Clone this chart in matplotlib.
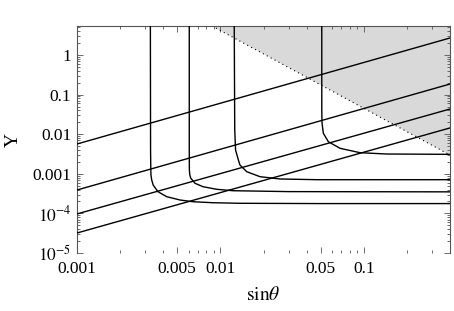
import matplotlib
matplotlib.use("Agg")
import matplotlib.pyplot as plt
from matplotlib.ticker import FixedLocator, NullFormatter

plt.rcParams['font.family'] = ['Liberation Serif', 'DejaVu Serif']
plt.rcParams['mathtext.fontset'] = 'stix'

# axis limits
x_lim = [0.001, 0.4]
y_lim = [1e-5, 5.4]

# straight lines (endpoints at x_lim)
line_x = [0.001, 0.4]
line1_y = [0.00566, 2.69]
line2_y = [3.9e-4, 0.185]
line3_y = [9.7e-5, 0.0433]
line4_y = [3.2e-5, 0.0144]

# L-shaped curves
curveA_x = [0.00325, 0.00326, 0.00327, 0.00328, 0.00332, 0.0034, 0.00367, 0.00423, 0.00523, 0.00645, 0.0089, 0.0137, 0.05, 0.4]
curveA_y = [5.4, 0.004, 0.0015, 9.3e-4, 7.0e-4, 5.2e-4, 3.53e-4, 2.64e-4, 2.18e-4, 1.97e-4, 1.86e-4, 1.8e-4, 1.77e-4, 1.77e-4]

curveB_x = [0.00607, 0.00607, 0.00608, 0.00612, 0.00621, 0.00666, 0.00757, 0.00944, 0.01227, 0.03, 0.4]
curveB_y = [5.4, 0.004, 1.25e-3, 9.5e-4, 7.8e-4, 5.75e-4, 4.72e-4, 4.06e-4, 3.74e-4, 3.55e-4, 3.5e-4]

curveC_x = [0.0125, 0.0126, 0.01277, 0.01336, 0.0137, 0.01528, 0.01892, 0.0261, 0.0471, 0.4]
curveC_y = [5.4, 0.0128, 0.004, 2.23e-3, 1.67e-3, 1.13e-3, 8.45e-4, 7.4e-4, 7.1e-4, 7.1e-4]

curveD_x = [0.051, 0.051, 0.0512, 0.0523, 0.0567, 0.0684, 0.0944, 0.145, 0.4]
curveD_y = [5.4, 0.0408, 0.0192, 0.01055, 6.45e-3, 4.4e-3, 3.41e-3, 3.16e-3, 3.1e-3]

# excluded (grey) region boundary
bound_x = [0.00875, 0.4]
bound_y = [5.4, 0.00298]

x_major = [0.001, 0.005, 0.01, 0.05, 0.1]
x_major_labels = ['0.001', '0.005', '0.01', '0.05', '0.1']
x_minor = [0.002, 0.003, 0.004, 0.006, 0.007, 0.008, 0.009, 0.02, 0.03, 0.04,
           0.06, 0.07, 0.08, 0.09, 0.2, 0.3]
y_major = [1e-5, 1e-4, 1e-3, 1e-2, 1e-1, 1]
y_major_labels = [r'$10^{-5}$', r'$10^{-4}$', '0.001', '0.01', '0.1', '1']
y_minor = [m * 10.0**e for e in range(-5, 1) for m in range(2, 10)]

fig = plt.figure(figsize=(4.54, 3.11), dpi=100)
ax = fig.add_axes([77/454, 58/311, 373/454, 227/311])
ax.set_xscale('log')
ax.set_yscale('log')
ax.set_xlim(x_lim)
ax.set_ylim(y_lim)

ax.fill([bound_x[0], bound_x[1], bound_x[1]], [bound_y[0], bound_y[1], y_lim[1]],
        color='#d9d9d9', lw=0, zorder=1)
ax.plot(bound_x, bound_y, color='black', lw=0.8, ls=(0, (1, 3)), zorder=2)

for ly in [line1_y, line2_y, line3_y, line4_y]:
    ax.plot(line_x, ly, color='black', lw=1.0, zorder=3)
for cx, cy in [(curveA_x, curveA_y), (curveB_x, curveB_y), (curveC_x, curveC_y), (curveD_x, curveD_y)]:
    ax.plot(cx, cy, color='black', lw=1.0, zorder=3)

ax.xaxis.set_major_locator(FixedLocator(x_major))
ax.set_xticklabels(x_major_labels)
ax.xaxis.set_minor_locator(FixedLocator(x_minor))
ax.xaxis.set_minor_formatter(NullFormatter())
ax.yaxis.set_major_locator(FixedLocator(y_major))
ax.set_yticklabels(y_major_labels)
ax.yaxis.set_minor_locator(FixedLocator(y_minor))
ax.yaxis.set_minor_formatter(NullFormatter())

ax.tick_params(which='both', direction='in', top=True, right=True, color='#555555', width=0.6,
               labelsize=12.5)
ax.tick_params(axis='x', which='major', pad=6)
ax.tick_params(axis='y', which='major', pad=4)
ax.tick_params(which='major', length=4)
ax.tick_params(which='minor', length=2)
ax.spines['bottom'].set_visible(False)
for s in ['left', 'top', 'right']:
    ax.spines[s].set_linewidth(0.8)
    ax.spines[s].set_color('#555555')

ax.set_xlabel(r'$\mathrm{sin}\theta$', fontsize=14, labelpad=6)
ax.set_ylabel('Y', fontsize=14, labelpad=8)

fig.savefig('out.png', dpi=100)
